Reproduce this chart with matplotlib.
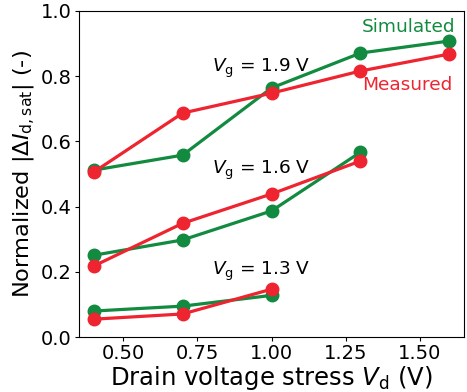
import matplotlib
matplotlib.use("Agg")
import matplotlib.pyplot as plt

# drain voltage stress (V)
vd_19 = [0.4, 0.7, 1.0, 1.3, 1.6]
vd_16 = [0.4, 0.7, 1.0, 1.3]
vd_13 = [0.4, 0.7, 1.0]

# simulated
sim_19 = [0.512, 0.558, 0.764, 0.871, 0.908]
sim_16 = [0.251, 0.298, 0.387, 0.567]
sim_13 = [0.080, 0.095, 0.128]

# measured
meas_19 = [0.506, 0.687, 0.748, 0.816, 0.868]
meas_16 = [0.218, 0.349, 0.439, 0.540]
meas_13 = [0.055, 0.071, 0.147]

green = '#128a3f'
red = '#ee2430'

fig = plt.figure(figsize=(4.67, 3.92), dpi=100)
ax = fig.add_axes([0.169, 0.140, 0.825, 0.832])

for x, y in [(vd_19, sim_19), (vd_16, sim_16), (vd_13, sim_13)]:
    ax.plot(x, y, '-o', color=green, lw=2.3, ms=9)
for x, y in [(vd_19, meas_19), (vd_16, meas_16), (vd_13, meas_13)]:
    ax.plot(x, y, '-o', color=red, lw=2.3, ms=9)

ax.text(1.62, 0.95, 'Simulated', color=green, fontsize=13.3, ha='right', va='center')
ax.text(1.61, 0.773, 'Measured', color=red, fontsize=13.3, ha='right', va='center')
ax.text(0.80, 0.825, r'$V_\mathrm{g}$ = 1.9 V', fontsize=13.3, va='center')
ax.text(0.80, 0.512, r'$V_\mathrm{g}$ = 1.6 V', fontsize=13.3, va='center')
ax.text(0.80, 0.200, r'$V_\mathrm{g}$ = 1.3 V', fontsize=13.3, va='center')

ax.set_xlim(0.35, 1.65)
ax.set_ylim(0, 1.0)
ax.set_xticks([0.5, 0.75, 1.0, 1.25, 1.5])
ax.set_yticks([0, 0.2, 0.4, 0.6, 0.8, 1.0])
ax.tick_params(labelsize=14, length=3, pad=2)
ax.set_xlabel(r'Drain voltage stress $V_\mathrm{d}$ (V)', fontsize=17.5, labelpad=1)
ax.set_ylabel(r'Normalized $|\Delta I_\mathrm{d,sat}|$ (-)', fontsize=16.2, labelpad=3)

fig.savefig('out.png', dpi=100)
